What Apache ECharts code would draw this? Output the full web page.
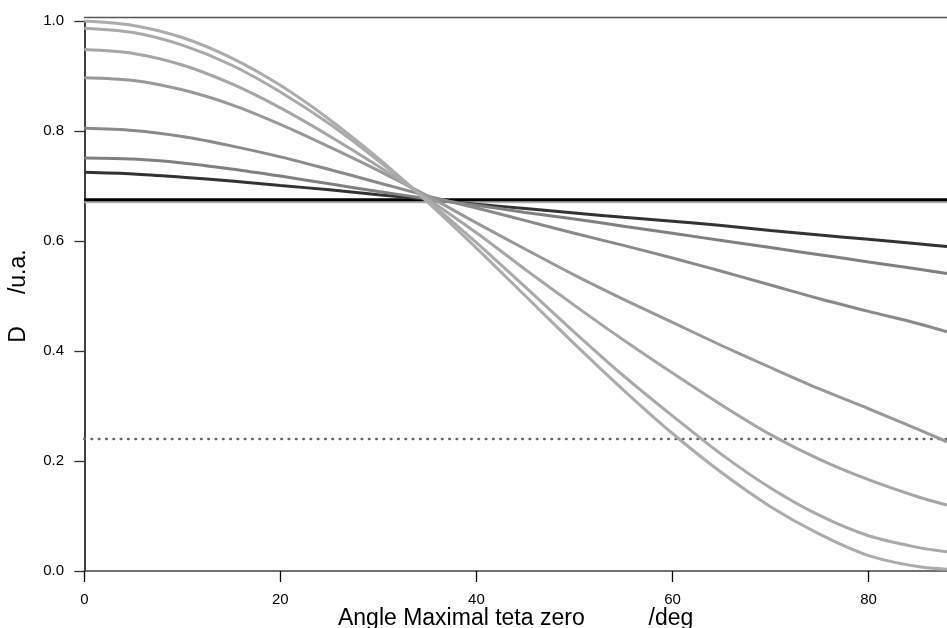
<!DOCTYPE html>
<html>
<head>
<meta charset="utf-8">
<script src="https://cdn.jsdelivr.net/npm/echarts@6/dist/echarts.min.js"></script>
<style>
html,body{margin:0;padding:0;background:#fff;}
#chart{width:947px;height:628px;}
</style>
</head>
<body>
<div id="chart"></div>
<script>
// angle values (deg)
const angles = [0,5,10,15,20,25,30,35,40,45,50,55,60,65,70,75,80,85,88];
// curves, from steepest (light) to flattest (dark)
const curve1 = [1.000,0.992,0.970,0.933,0.883,0.821,0.750,0.671,0.587,0.500,0.413,0.329,0.250,0.179,0.117,0.067,0.028,0.008,0.003];
const curve2 = [0.987,0.979,0.956,0.920,0.871,0.813,0.746,0.674,0.597,0.516,0.434,0.355,0.282,0.212,0.151,0.101,0.064,0.043,0.035];
const curve3 = [0.948,0.941,0.920,0.886,0.842,0.791,0.736,0.677,0.615,0.548,0.483,0.420,0.360,0.302,0.248,0.203,0.166,0.135,0.120];
const curve4 = [0.897,0.892,0.875,0.848,0.812,0.771,0.728,0.682,0.633,0.585,0.538,0.494,0.452,0.410,0.370,0.331,0.295,0.258,0.235];
const curve5 = [0.805,0.801,0.790,0.773,0.753,0.730,0.706,0.682,0.660,0.637,0.614,0.592,0.569,0.545,0.520,0.495,0.472,0.450,0.435];
const curve6 = [0.751,0.749,0.742,0.731,0.718,0.704,0.690,0.677,0.665,0.652,0.640,0.627,0.614,0.601,0.588,0.575,0.562,0.549,0.541];
const curve7 = [0.725,0.722,0.716,0.709,0.701,0.693,0.684,0.676,0.667,0.659,0.651,0.643,0.636,0.628,0.619,0.611,0.603,0.595,0.590];
// horizontal reference levels
const flatAngles = [0, 88];
const isoLevel = [0.6715, 0.6715];
const blackLevel = [0.675, 0.675];
const dottedLevel = [0.24, 0.24];
// ticks
const xTicks = [0,20,40,60,80];

const curves = [curve7, curve6, curve5, curve4, curve3, curve2, curve1];
const curveColors = ['#333333','#808080','#8a8a8a','#999999','#a6a6a6','#aaaaaa','#acacac'];

function pairs(xs, ys){ return xs.map((x,i)=>[x, ys[i]]); }

const FONT = '"Liberation Sans", Arial, Helvetica, sans-serif';

const series = [];
series.push({type:'line', data:pairs(flatAngles,isoLevel), showSymbol:false, silent:true,
  lineStyle:{color:'#b0b0b0', width:3}});
series.push({type:'line', data:pairs(flatAngles,blackLevel), showSymbol:false, silent:true,
  lineStyle:{color:'#000000', width:3}});
series.push({type:'line', data:pairs(flatAngles,dottedLevel), showSymbol:false, silent:true,
  lineStyle:{color:'#666666', width:2.6, type:[0.5,6.8], cap:'round'}});
curves.forEach((c,i)=>{
  series.push({type:'line', data:pairs(angles,c), showSymbol:false, silent:true, smooth:0.3,
    lineStyle:{color:curveColors[i], width:3}});
});

const chart = echarts.init(document.getElementById('chart'), null, {renderer:'canvas'});
chart.setOption({
  animation:false,
  backgroundColor:'#ffffff',
  grid:{left:84.3, right:0, top:21, bottom:57, containLabel:false, outerBoundsMode:'none'},
  xAxis:[{
    type:'value', min:0, max:88, interval:20, offset:2.3,
    axisLine:{show:true, lineStyle:{color:'#444', width:1.5}},
    axisTick:{show:true, inside:false, length:11, lineStyle:{color:'#000', width:1.3}, customValues:xTicks},
    axisLabel:{show:true, margin:19, color:'#000', fontSize:15, fontFamily:FONT, customValues:xTicks},
    splitLine:{show:false},
    name:'Angle Maximal teta zero          /deg',
    nameLocation:'middle', nameGap:33.5, nameMoveOverlap:false,
    nameTextStyle:{color:'#000', fontSize:23, fontFamily:FONT}
  },{
    type:'value', min:0, max:88, position:'top', offset:3.3,
    axisLine:{show:true, lineStyle:{color:'#555', width:1.3}},
    axisTick:{show:false}, axisLabel:{show:false}, splitLine:{show:false}
  }],
  yAxis:{
    type:'value', min:0, max:1.0, interval:0.2, offset:3.3,
    axisLine:{show:true, lineStyle:{color:'#000', width:1.5}},
    axisTick:{show:true, inside:false, length:10, lineStyle:{color:'#333', width:1.3}},
    axisLabel:{show:true, margin:17, color:'#000', fontSize:15, fontFamily:FONT,
      formatter:(v)=>v.toFixed(1)},
    splitLine:{show:false},
    name:'D     /u.a.',
    nameLocation:'middle', nameGap:51, nameRotate:90, nameMoveOverlap:false,
    nameTextStyle:{color:'#000', fontSize:23, fontFamily:FONT}
  },
  series:series
});
</script>
</body>
</html>
